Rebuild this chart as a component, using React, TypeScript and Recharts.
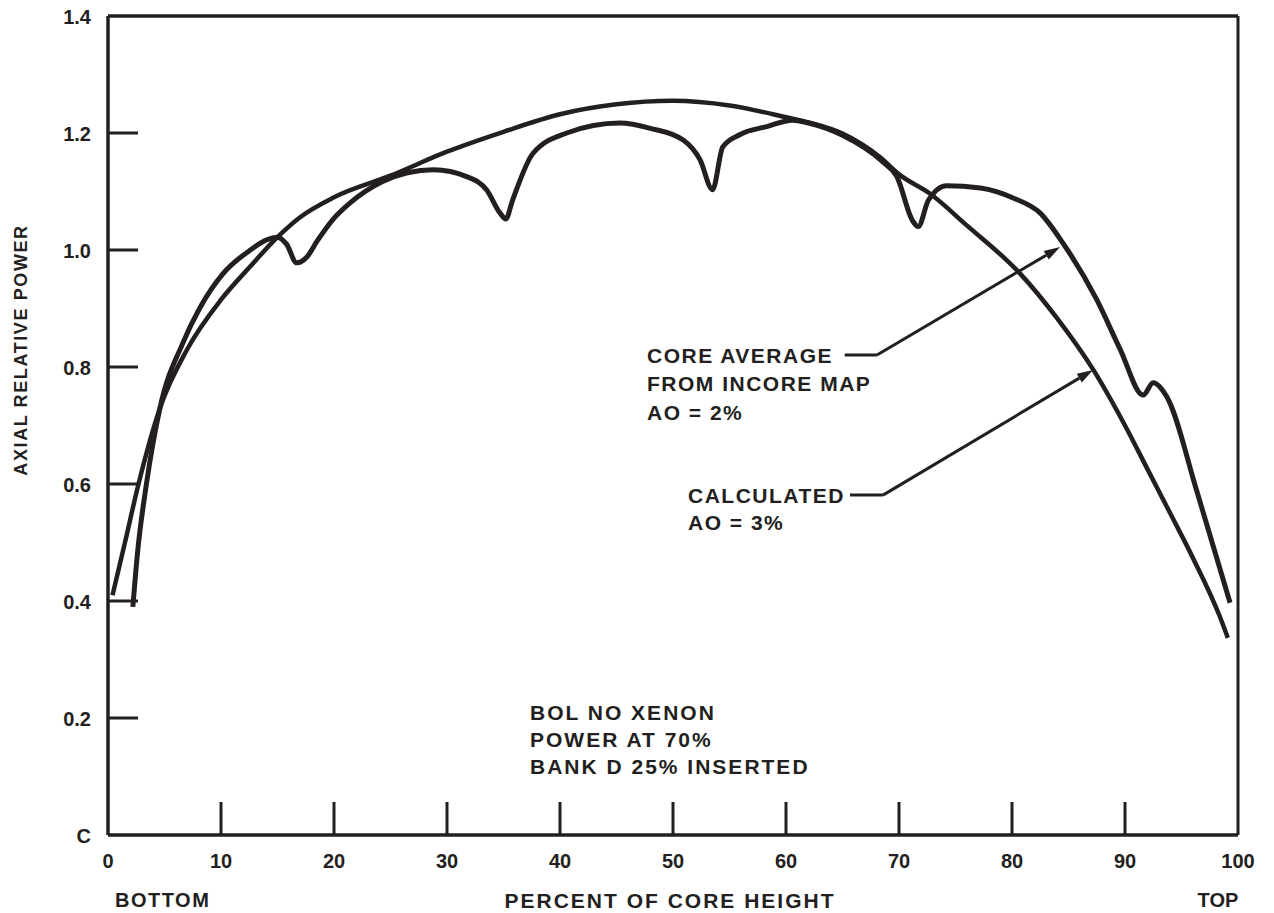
import React from 'react';
import { LineChart, Line, XAxis, YAxis, ReferenceLine } from 'recharts';

// ---------- data ----------
const xTicks = [0, 10, 20, 30, 40, 50, 60, 70, 80, 90, 100];
const yTicks = [0, 0.2, 0.4, 0.6, 0.8, 1.0, 1.2, 1.4];
const yTickLabels = ['C', '0.2', '0.4', '0.6', '0.8', '1.0', '1.2', '1.4'];

// Calculated (smooth) profile, AO = 3%
const calcX = [0.4, 1.5, 2.7, 4.6, 7, 10, 12.5, 15, 17, 20, 25, 30, 35, 40, 45, 50, 55, 60, 62, 65, 68.3, 70.1, 72.7, 76, 80.7, 84, 87.2, 90, 92, 94, 96, 98.4, 99.1];
const calcY = [0.41, 0.5, 0.6, 0.73, 0.83, 0.915, 0.97, 1.022, 1.056, 1.09, 1.127, 1.168, 1.202, 1.232, 1.249, 1.255, 1.247, 1.227, 1.218, 1.199, 1.159, 1.128, 1.097, 1.042, 0.96, 0.883, 0.795, 0.7, 0.625, 0.55, 0.474, 0.373, 0.337];

// Core average from incore map, AO = 2%
const incoreX = [2.2, 2.6, 3.4, 4.6, 6.6, 8.1, 10.2, 12.6, 14, 15, 15.8, 16.7, 17.6, 18.5, 19.9, 21.4, 24.3, 26.5, 28.8, 31.8, 33.5, 34.7, 35.2, 35.8, 37.6, 40.6, 45.3, 48, 50.9, 52.4, 53.5, 54.4, 55.9, 58.3, 60.6, 62, 65, 68.6, 69.8, 71.2, 71.7, 72.6, 74.2, 77.2, 80.1, 82.5, 84.5, 87.5, 89.6, 91.6, 92.5, 93.7, 96.4, 99.3];
const incoreY = [0.39, 0.48, 0.6, 0.73, 0.84, 0.9, 0.96, 1.0, 1.017, 1.022, 1.01, 0.978, 0.988, 1.015, 1.052, 1.08, 1.117, 1.132, 1.137, 1.125, 1.103, 1.063, 1.053, 1.085, 1.165, 1.2, 1.217, 1.208, 1.188, 1.154, 1.103, 1.176, 1.197, 1.211, 1.222, 1.217, 1.196, 1.15, 1.126, 1.05, 1.04, 1.085, 1.11, 1.106, 1.089, 1.063, 1.012, 0.915, 0.829, 0.752, 0.773, 0.749, 0.585, 0.397];

const calcData = calcX.map((x, i) => ({ x, y: calcY[i] }));
const incoreData = incoreX.map((x, i) => ({ x, y: incoreY[i] }));

// annotation leader lines (data coordinates)
const coreLeaderDash = [{ x: 65.2, y: 0.8205 }, { x: 68.05, y: 0.8205 }];
const coreLeaderArrow = [{ x: 68.05, y: 0.8205 }, { x: 84.25, y: 1.005 }];
const calcLeaderDash = [{ x: 65.66, y: 0.581 }, { x: 68.58, y: 0.581 }];
const calcLeaderArrow = [{ x: 68.58, y: 0.581 }, { x: 87.17, y: 0.795 }];

// ---------- style ----------
const INK = '#231f20';
const FONT = '"Liberation Sans", Arial, "DejaVu Sans", sans-serif';
const W = 1274;
const H = 913;

const XTick = (props: any) => {
  const { x, y, payload } = props;
  const v = payload.value;
  return (
    <g>
      {v > 0 && v < 100 && (
        <line x1={x} y1={y} x2={x} y2={y - 33} stroke={INK} strokeWidth={3} />
      )}
      <text x={x} y={y + 26} textAnchor="middle" dominantBaseline="central"
        fontFamily={FONT} fontWeight="bold" fontSize={20} fill={INK}>
        {v}
      </text>
    </g>
  );
};

const YTick = (props: any) => {
  const { x, y, payload } = props;
  const v = payload.value;
  const idx = yTicks.findIndex((t) => Math.abs(t - v) < 1e-6);
  const label = idx >= 0 ? yTickLabels[idx] : String(v);
  return (
    <g>
      {v > 0.01 && v < 1.39 && (
        <line x1={x} y1={y} x2={x + 30} y2={y} stroke={INK} strokeWidth={3} />
      )}
      <text x={x - 17} y={y + 1} textAnchor="end" dominantBaseline="central"
        fontFamily={FONT} fontWeight="bold" fontSize={20} fill={INK}>
        {label}
      </text>
    </g>
  );
};

const arrowShape = (props: any) => {
  const { x1, y1, x2, y2 } = props;
  const ang = Math.atan2(y2 - y1, x2 - x1);
  const len = 16;
  const half = 5;
  const bx = x2 - len * Math.cos(ang);
  const by = y2 - len * Math.sin(ang);
  const px = -Math.sin(ang) * half;
  const py = Math.cos(ang) * half;
  return (
    <g>
      <line x1={x1} y1={y1} x2={bx} y2={by} stroke={INK} strokeWidth={3} />
      <polygon points={`${x2},${y2} ${bx + px},${by + py} ${bx - px},${by - py}`} fill={INK} />
    </g>
  );
};

const txt = {
  fontFamily: FONT,
  fontWeight: 'bold' as const,
  fill: INK,
};

export default function App() {
  return (
    <div style={{ position: 'relative', width: W, height: H, margin: '-8px 0 0 -8px', background: '#fff', overflow: 'hidden' }}>
      <LineChart width={W} height={H} margin={{ top: 16, right: 36, left: 48, bottom: 38 }}>
        <XAxis dataKey="x" type="number" domain={[0, 100]} ticks={xTicks} interval={0}
          height={40} tickSize={0} tickMargin={0} tickLine={false}
          axisLine={{ stroke: INK, strokeWidth: 3.5 }} tick={<XTick />} allowDataOverflow />
        <YAxis type="number" domain={[0, 1.4]} ticks={yTicks} interval={0}
          width={60} tickSize={0} tickMargin={0} tickLine={false}
          axisLine={{ stroke: INK, strokeWidth: 3.5 }} tick={<YTick />} allowDataOverflow />
        <ReferenceLine y={1.4} stroke={INK} strokeWidth={3.5} />
        <ReferenceLine x={100} stroke={INK} strokeWidth={3} />
        <ReferenceLine segment={coreLeaderDash} stroke={INK} strokeWidth={3} />
        <ReferenceLine segment={coreLeaderArrow} shape={arrowShape} />
        <ReferenceLine segment={calcLeaderDash} stroke={INK} strokeWidth={3} />
        <ReferenceLine segment={calcLeaderArrow} shape={arrowShape} />
        <Line data={calcData} dataKey="y" type="monotone" stroke={INK} strokeWidth={4.5}
          dot={false} activeDot={false} isAnimationActive={false} strokeLinejoin="round" />
        <Line data={incoreData} dataKey="y" type="monotone" stroke={INK} strokeWidth={5}
          dot={false} activeDot={false} isAnimationActive={false} strokeLinejoin="round" />
      </LineChart>
      <svg width={W} height={H} style={{ position: 'absolute', left: 0, top: 0, pointerEvents: 'none' }}>
        <text {...txt} fontSize={18} letterSpacing={1.6} textAnchor="middle" dominantBaseline="central"
          transform="translate(21,350) rotate(-90)">AXIAL RELATIVE POWER</text>
        <text {...txt} fontSize={21} letterSpacing={2} textAnchor="middle" dominantBaseline="central"
          x={670} y={900}>PERCENT OF CORE HEIGHT</text>
        <text {...txt} fontSize={20} letterSpacing={1.5} dominantBaseline="central" x={115} y={900}>BOTTOM</text>
        <text {...txt} fontSize={20} textAnchor="middle" dominantBaseline="central" x={1218} y={900}>TOP</text>

        <text {...txt} fontSize={21} letterSpacing={1.5} dominantBaseline="central" x={647} y={355}>CORE AVERAGE</text>
        <text {...txt} fontSize={21} letterSpacing={1.5} dominantBaseline="central" x={647} y={383}>FROM INCORE MAP</text>
        <text {...txt} fontSize={21} letterSpacing={1.5} dominantBaseline="central" x={647} y={412}>AO = 2%</text>

        <text {...txt} fontSize={21} letterSpacing={1.5} dominantBaseline="central" x={688} y={495}>CALCULATED</text>
        <text {...txt} fontSize={21} letterSpacing={1.5} dominantBaseline="central" x={688} y={522}>AO = 3%</text>

        <text {...txt} fontSize={21} letterSpacing={2} dominantBaseline="central" x={530} y={712}>BOL NO XENON</text>
        <text {...txt} fontSize={21} letterSpacing={2} dominantBaseline="central" x={530} y={739}>POWER AT 70%</text>
        <text {...txt} fontSize={21} letterSpacing={2} dominantBaseline="central" x={530} y={766}>BANK D 25% INSERTED</text>
      </svg>
    </div>
  );
}
